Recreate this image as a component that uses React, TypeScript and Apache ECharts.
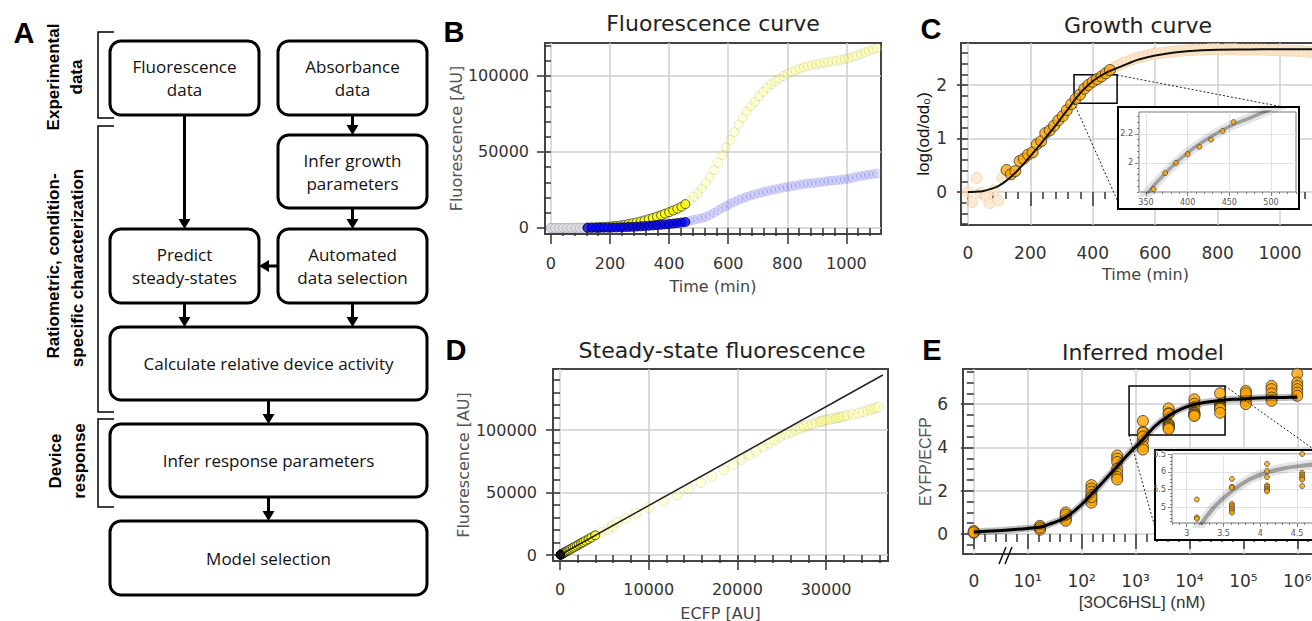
import React, { useEffect, useRef } from "react";
import * as echarts from "echarts";

// ---------------- DATA ----------------
// measurement times (min)
const TIME_MIN = [
  0, 14, 28, 41, 55, 69, 83, 97, 110, 124,
  138, 152, 166, 179, 193, 207, 221, 235, 248, 262,
  276, 290, 304, 317, 331, 345, 359, 373, 386, 400,
  414, 428, 442, 455, 469, 483, 497, 511, 524, 538,
  552, 566, 580, 593, 607, 621, 635, 649, 662, 676,
  690, 704, 718, 731, 745, 759, 773, 787, 800, 814,
  828, 842, 856, 869, 883, 897, 911, 925, 938, 952,
  966, 980, 994, 1007, 1021, 1035, 1049, 1063, 1076, 1090,
  1104,
];
// EYFP fluorescence (AU)
const EYFP_AU = [
  60, 90, 70, 110, 100, 130, 160, 190, 220,
  300, 400, 500, 600, 700, 900, 1100, 1400, 1700, 2100, 2600, 3100, 3700, 4300, 5000,
  5800, 6600, 7500, 8400, 9400, 10400, 11500, 12700, 14000, 15700,
  18000, 20500, 23000, 26000, 29500, 33500, 38000, 43000, 48000, 53000,
  58000, 63000, 68000, 72500, 76500, 80000, 83000, 86500, 89500, 92000,
  94500, 96500, 98300, 100000, 101300, 102500, 103700, 104800, 105800, 106600,
  107100, 107600, 108200, 108700, 109200, 109600, 110000, 110500, 111000, 111600,
  112500, 113500, 114600, 115700, 116600, 117500, 118300,
];
// ECFP fluorescence (AU)
const ECFP_AU = [
  20, 30, 20, 30, 40, 40, 50, 50, 60,
  80, 100, 130, 150, 180, 230, 280, 350, 430, 530, 660, 780, 940, 1090, 1270,
  1470, 1670, 1900, 2130, 2380, 2630, 2910, 3220, 3540, 3970,
  4620, 5400, 5930, 6430, 7400, 8600, 10000, 11700, 13200, 14500,
  15900, 17100, 18500, 19500, 20400, 21300, 22100, 22900, 23600, 24200,
  24800, 25400, 26000, 26600, 27100, 27500, 27900, 28400, 28900, 29300,
  29500, 29750, 30100, 30500, 30900, 31200, 31400, 31700, 32000, 32400,
  33000, 33700, 34200, 34700, 35100, 35500, 35900,
];
// log(od/od0)
const LOG_OD = [
  0, -0.19, 0.26, -0.02, -0.07, -0.21, 0.03, -0.16, 0.26,
  0.41, 0.33, 0.39, 0.58, 0.62, 0.7, 0.74, 0.89, 0.95, 1.1, 1.15, 1.24, 1.34, 1.42, 1.53,
  1.64, 1.74, 1.82, 1.93, 2.0, 2.06, 2.11, 2.16, 2.22, 2.28,
  2.33, 2.37, 2.41, 2.44, 2.47, 2.5, 2.52, 2.54, 2.56, 2.58,
  2.59, 2.6, 2.61, 2.62, 2.63, 2.64, 2.64, 2.65, 2.65, 2.66,
  2.66, 2.66, 2.67, 2.67, 2.67, 2.66, 2.67, 2.67, 2.67, 2.66,
  2.66, 2.66, 2.66, 2.66, 2.66, 2.66, 2.65, 2.65, 2.65, 2.65,
  2.64, 2.64, 2.64, 2.63, 2.63, 2.62, 2.61,
];
// automated data selection window (min)
const SELECT_FROM_MIN = 120;
const SELECT_TO_MIN = 460;

// fitted growth curve
const GROWTH_FIT_T = [0, 25, 50, 75, 100, 125, 150, 175, 200, 225, 250, 275, 300, 325, 350, 375, 400, 425, 450, 475, 500, 525, 550, 600, 650, 700, 750, 800, 900, 1000, 1150];
const GROWTH_FIT_Y = [0, 0.005, 0.02, 0.06, 0.12, 0.22, 0.35, 0.5, 0.67, 0.84, 1.02, 1.2, 1.39, 1.58, 1.78, 1.94, 2.07, 2.17, 2.25, 2.31, 2.37, 2.43, 2.48, 2.55, 2.6, 2.63, 2.65, 2.66, 2.665, 2.67, 2.67];

// steady-state ratio line (ECFP -> EYFP)
const STEADY_LINE_ECFP = [0, 36400];
const STEADY_LINE_EYFP = [0, 144000];

// dose response
const HSL_CONC_NM = [0, 16.9, 50.8, 152, 457, 1372, 4115, 12346, 37037, 111111, 333333, 1000000];
const RATIO_REPLICATES = [
  [0.06, 0.1, 0.14, 0.08],
  [0.38, 0.27, 0.2, 0.3],
  [1.0, 0.8, 0.69, 0.61, 0.9],
  [2.26, 2.1, 1.95, 1.8, 1.57, 1.45, 1.7],
  [3.63, 3.48, 3.33, 3.02, 2.8, 2.64, 2.52],
  [5.22, 4.72, 4.68, 4.32, 4.05, 3.9, 4.5],
  [5.8, 5.58, 5.55, 5.1, 5.05, 5.0, 4.95, 4.9, 4.85],
  [6.22, 6.02, 5.85, 5.62, 5.58, 5.52, 5.48, 5.45],
  [6.5, 5.97, 5.92, 5.87, 5.82, 5.78, 5.6],
  [6.61, 6.38, 6.15, 6.0, 6.5],
  [6.84, 6.69, 6.49, 6.3, 6.15],
  [7.4, 7.0, 6.84, 6.69, 6.53, 6.38],
];
const MODEL_LOG10_CONC = [0, 1.23, 1.45, 1.7, 1.95, 2.17, 2.4, 2.65, 2.9, 3.13, 3.37, 3.61, 3.85, 4.09, 4.33, 4.57, 4.8, 5.04, 5.28, 5.52, 5.76, 6.0];
const MODEL_RATIO = [0.1, 0.32, 0.5, 0.76, 1.25, 1.8, 2.42, 3.1, 3.78, 4.35, 5.0, 5.45, 5.78, 5.98, 6.1, 6.17, 6.22, 6.25, 6.28, 6.3, 6.31, 6.32];

// tick labels
const B_X_TICKS = [0, 200, 400, 600, 800, 1000];
const B_Y_TICKS = [0, 50000, 100000];
const C_X_TICKS = [0, 200, 400, 600, 800, 1000];
const C_Y_TICKS = [0, 1, 2];
const CIN_X_TICKS = [350, 400, 450, 500];
const CIN_Y_TICKS = [2, 2.2];
const D_X_TICKS = [0, 10000, 20000, 30000];
const D_Y_TICKS = [0, 50000, 100000];
const E_X_TICKS = [0, 1, 2, 3, 4, 5, 6];
const E_Y_TICKS = [0, 2, 4, 6];
const EIN_X_TICKS = [3, 3.5, 4, 4.5];
const EIN_Y_TICKS = [5, 5.5, 6, 6.5];
const SUPERSCRIPT = ["⁰", "¹", "²", "³", "⁴", "⁵", "⁶"];

// ---------------- HELPERS ----------------
const FONT_PLOT = '"DejaVu Sans", Verdana, sans-serif';
const FONT_ARIAL = '"Liberation Sans", Arial, sans-serif';
const FONT_FLOW = '"Open Sans", "Liberation Sans", sans-serif';

function minorTicks(min: number, max: number, step: number, majors: number[]) {
  const out: number[] = [];
  const k0 = Math.ceil(min / step - 1e-9);
  const k1 = Math.floor(max / step + 1e-9);
  for (let k = k0; k <= k1; k++) {
    const v = +(k * step).toFixed(6);
    if (!majors.some((m) => Math.abs(m - v) < step * 1e-3)) out.push(v);
  }
  return out;
}

interface AxisDef {
  grid: number; min: number; max: number; majors: number[]; minorStep: number;
  majorLen: number; minorLen: number; labelFont: number; labelMargin: number;
  labelColor?: string; labelFamily?: string; formatter?: (v: number) => string;
  name?: string; nameGap?: number; nameFont?: number; nameFamily?: string; nameColor?: string;
  tickColor?: string; tickWidth?: number; splitColor?: string; splitWidth?: number; z?: number;
}

function axisPair(dim: "x" | "y", d: AxisDef) {
  const position = dim === "x" ? "bottom" : "left";
  const tickLine = { color: d.tickColor ?? "#333", width: d.tickWidth ?? 1.5 };
  const z = d.z ?? 0;
  const major = {
    type: "value", gridIndex: d.grid, position, min: d.min, max: d.max, z,
    axisLine: { show: false },
    axisTick: { show: true, inside: false, length: d.majorLen, customValues: d.majors, lineStyle: tickLine },
    axisLabel: {
      show: true, customValues: d.majors, margin: d.labelMargin, fontSize: d.labelFont,
      fontFamily: d.labelFamily ?? FONT_PLOT, color: d.labelColor ?? "#333",
      formatter: d.formatter ?? ((v: number) => String(v)),
    },
    splitLine: { show: true, lineStyle: { color: d.splitColor ?? "#cfcfcf", width: d.splitWidth ?? 1.5 } },
    minorTick: { show: false }, minorSplitLine: { show: false },
    name: d.name ?? "", nameLocation: "middle", nameGap: d.nameGap ?? 30,
    nameTextStyle: { fontSize: d.nameFont ?? 16, fontFamily: d.nameFamily ?? FONT_PLOT, color: d.nameColor ?? "#444" },
  };
  const minor = {
    type: "value", gridIndex: d.grid, position, min: d.min, max: d.max, z,
    axisLine: { show: false },
    axisTick: { show: true, inside: false, length: d.minorLen, customValues: minorTicks(d.min, d.max, d.minorStep, d.majors), lineStyle: tickLine },
    axisLabel: { show: false },
    splitLine: { show: false }, minorTick: { show: false }, minorSplitLine: { show: false },
  };
  return [major, minor];
}

const idxWhere = (f: (t: number) => boolean) => TIME_MIN.map((_, i) => i).filter((i) => f(TIME_MIN[i]));
const IDX_EARLY = idxWhere((t) => t < SELECT_FROM_MIN);
const IDX_SEL = idxWhere((t) => t >= SELECT_FROM_MIN && t <= SELECT_TO_MIN);
const IDX_LATE = idxWhere((t) => t > SELECT_TO_MIN);
const pairs = (idx: number[], xs: number[], ys: number[]) => idx.map((i) => [xs[i], ys[i]]);
const zip = (xs: number[], ys: number[]) => xs.map((x, i) => [x, ys[i]]);
const concPos = (c: number) => (c === 0 ? 0 : Math.log10(c));

function buildOption() {
  const inset = { labelFont: 8, labelMargin: 6, labelColor: "#555", tickColor: "#666", tickWidth: 0.8, splitColor: "#e2e2e2", splitWidth: 1, majorLen: 4, minorLen: 2, z: 21 };
  const ax: any[][] = [
    // B
    [axisPair("x", { grid: 0, min: -20, max: 1117, majors: B_X_TICKS, minorStep: 40, majorLen: 16, minorLen: 8, labelFont: 16, labelMargin: 21, name: "Time (min)", nameGap: 44 }),
     axisPair("y", { grid: 0, min: -3950, max: 121700, majors: B_Y_TICKS, minorStep: 10000, majorLen: 14, minorLen: 7, labelFont: 16, labelMargin: 16, name: "Fluorescence [AU]", nameGap: 81, nameColor: "#555" })],
    // C
    [axisPair("x", { grid: 1, min: -22, max: 1160, majors: C_X_TICKS, minorStep: 40, majorLen: 14, minorLen: 7, labelFont: 17, labelMargin: 19, name: "Time (min)", nameGap: 41 }),
     axisPair("y", { grid: 1, min: -0.617, max: 2.785, majors: C_Y_TICKS, minorStep: 0.2, majorLen: 11, minorLen: 6, labelFont: 17, labelMargin: 14, name: "log(od/od₀)", nameGap: 27, nameFont: 17, nameFamily: FONT_ARIAL, nameColor: "#111" })],
    // C inset
    [axisPair("x", { grid: 2, min: 341.6, max: 530, majors: CIN_X_TICKS, minorStep: 10, ...inset }),
     axisPair("y", { grid: 2, min: 1.8, max: 2.35, majors: CIN_Y_TICKS, minorStep: 0.04, ...inset })],
    // D
    [axisPair("x", { grid: 3, min: -790, max: 36980, majors: D_X_TICKS, minorStep: 2000, majorLen: 15, minorLen: 8, labelFont: 16, labelMargin: 20, name: "ECFP [AU]", nameGap: 44 }),
     axisPair("y", { grid: 3, min: -4800, max: 148800, majors: D_Y_TICKS, minorStep: 10000, majorLen: 14, minorLen: 7, labelFont: 16, labelMargin: 16, name: "Fluorescence [AU]", nameGap: 82, nameColor: "#555" })],
    // E
    [axisPair("x", { grid: 4, min: -0.2, max: 6.44, majors: E_X_TICKS, minorStep: 0.2, majorLen: 15, minorLen: 8, labelFont: 17, labelMargin: 18, formatter: (v: number) => (v === 0 ? "0" : "10" + SUPERSCRIPT[Math.round(v)]), name: "[3OC6HSL] (nM)", nameGap: 40, nameFont: 17, nameFamily: FONT_ARIAL, nameColor: "#333" }),
     axisPair("y", { grid: 4, min: -0.92, max: 7.62, majors: E_Y_TICKS, minorStep: 0.5, majorLen: 13, minorLen: 7, labelFont: 17, labelMargin: 15, name: "EYFP/ECFP", nameGap: 27, nameFont: 16, nameFamily: FONT_ARIAL, nameColor: "#555" })],
    // E inset
    [axisPair("x", { grid: 5, min: 2.8, max: 4.73, majors: EIN_X_TICKS, minorStep: 0.1, ...inset }),
     axisPair("y", { grid: 5, min: 4.56, max: 6.5, majors: EIN_Y_TICKS, minorStep: 0.1, ...inset })],
  ];
  const xAxis: any[] = [];
  const yAxis: any[] = [];
  ax.forEach(([xp, yp]) => { xAxis.push(...xp); yAxis.push(...yp); });
  const on = (g: number) => ({ xAxisIndex: 2 * g, yAxisIndex: 2 * g });

  const frame = { show: true, borderColor: "#444", borderWidth: 2, backgroundColor: "transparent", containLabel: false, outerBoundsMode: "none" };
  const insetFrame = { show: true, borderColor: "#777", borderWidth: 1, backgroundColor: "#fff", containLabel: false, outerBoundsMode: "none", z: 21 };
  const grid = [
    { ...frame, left: 545, top: 43, width: 336, height: 191 },
    { ...frame, left: 961, top: 43, width: 369, height: 182 },
    { ...insetFrame, left: 1139, top: 112, width: 157, height: 80 },
    { ...frame, left: 553, top: 369, width: 335, height: 192 },
    { ...frame, left: 963, top: 369, width: 358, height: 185 },
    { ...insetFrame, left: 1172, top: 454, width: 142, height: 69 },
  ];

  const yellowSel = { color: "#ffff00", borderColor: "#333", borderWidth: 1 };
  const blueSel = { color: "#0000ff", borderColor: "#000033", borderWidth: 1 };
  const yellowFade = { color: "rgba(255,255,110,0.3)", borderColor: "rgba(150,150,70,0.28)", borderWidth: 1 };
  const blueFade = { color: "rgba(110,110,255,0.22)", borderColor: "rgba(70,70,170,0.22)", borderWidth: 1 };
  const grayFade = { color: "#dcdce2", borderColor: "#b4b4bd", borderWidth: 1 };
  const orangeSel = { color: "#ffa500", borderColor: "#333", borderWidth: 1 };
  const orangeFade = { color: "#fce6c9", borderColor: "#f0d3ab", borderWidth: 1 };
  const zoomBox = { silent: true, label: { show: false }, itemStyle: { color: "rgba(0,0,0,0)", borderColor: "#000", borderWidth: 1.5 } };

  const ePoints: number[][] = [];
  HSL_CONC_NM.forEach((c, j) => RATIO_REPLICATES[j].forEach((v) => ePoints.push([concPos(c), v])));
  const modelCurve = zip(MODEL_LOG10_CONC, MODEL_RATIO);
  const growthCurve = zip(GROWTH_FIT_T, GROWTH_FIT_Y);

  const series: any[] = [
    // ---- B ----
    { type: "scatter", ...on(0), symbolSize: 9, itemStyle: grayFade, data: pairs(IDX_EARLY, TIME_MIN, EYFP_AU), clip: true },
    { type: "scatter", ...on(0), symbolSize: 9, itemStyle: grayFade, data: pairs(IDX_EARLY, TIME_MIN, ECFP_AU), clip: true },
    { type: "scatter", ...on(0), symbolSize: 9, itemStyle: yellowFade, data: pairs(IDX_LATE, TIME_MIN, EYFP_AU), clip: true },
    { type: "scatter", ...on(0), symbolSize: 9, itemStyle: blueFade, data: pairs(IDX_LATE, TIME_MIN, ECFP_AU), clip: true },
    { type: "scatter", ...on(0), symbolSize: 9, itemStyle: yellowSel, data: pairs(IDX_SEL, TIME_MIN, EYFP_AU), clip: true },
    { type: "scatter", ...on(0), symbolSize: 9, itemStyle: blueSel, data: pairs(IDX_SEL, TIME_MIN, ECFP_AU), clip: true },
    // ---- C ----
    { type: "scatter", ...on(1), symbolSize: 11, itemStyle: orangeFade, data: pairs(IDX_EARLY, TIME_MIN, LOG_OD), clip: true },
    { type: "scatter", ...on(1), symbolSize: 11, itemStyle: orangeFade, data: pairs(IDX_LATE, TIME_MIN, LOG_OD), clip: true },
    { type: "line", ...on(1), smooth: true, symbol: "none", lineStyle: { color: "#111", width: 2 }, data: growthCurve, clip: true,
      markArea: { ...zoomBox, data: [[{ xAxis: 340, yAxis: 1.66 }, { xAxis: 478, yAxis: 2.19 }]] } },
    { type: "scatter", ...on(1), symbolSize: 11, itemStyle: orangeSel, data: pairs(IDX_SEL, TIME_MIN, LOG_OD), clip: true },
    // ---- C inset ----
    { type: "line", ...on(2), z: 22, smooth: true, symbol: "none", lineStyle: { color: "rgba(0,0,0,0.10)", width: 10 }, data: growthCurve, clip: true },
    { type: "line", ...on(2), z: 22, smooth: true, symbol: "none", lineStyle: { color: "rgba(0,0,0,0.30)", width: 3.5 }, data: growthCurve, clip: true },
    { type: "scatter", ...on(2), z: 23, symbolSize: 5, itemStyle: { ...orangeSel, borderWidth: 0.8 }, data: pairs(IDX_SEL, TIME_MIN, LOG_OD), clip: true },
    // ---- D ----
    { type: "scatter", ...on(3), symbolSize: 10, itemStyle: yellowFade, data: pairs(IDX_LATE, ECFP_AU, EYFP_AU), clip: true },
    { type: "line", ...on(3), symbol: "none", lineStyle: { color: "#222", width: 1.5 }, data: zip(STEADY_LINE_ECFP, STEADY_LINE_EYFP), clip: true },
    { type: "scatter", ...on(3), symbolSize: 9, itemStyle: { ...yellowSel, borderColor: "#222" }, data: pairs(IDX_SEL, ECFP_AU, EYFP_AU), clip: true },
    { type: "scatter", ...on(3), symbolSize: 8, itemStyle: { color: "#111", borderColor: "#000", borderWidth: 1 }, data: pairs(IDX_EARLY, ECFP_AU, EYFP_AU), clip: true },
    // ---- E ----
    { type: "line", ...on(4), smooth: 0.35, symbol: "none", lineStyle: { color: "rgba(0,0,0,0.25)", width: 7 }, data: modelCurve, clip: true },
    { type: "line", ...on(4), smooth: 0.35, symbol: "none", lineStyle: { color: "#000", width: 3 }, data: modelCurve, clip: true,
      markArea: { ...zoomBox, data: [[{ xAxis: 2.88, yAxis: 4.57 }, { xAxis: 4.66, yAxis: 6.84 }]] } },
    { type: "scatter", ...on(4), symbolSize: 11, itemStyle: orangeSel, data: ePoints, clip: true },
    // ---- E inset ----
    { type: "line", ...on(5), z: 22, smooth: 0.35, symbol: "none", lineStyle: { color: "rgba(0,0,0,0.10)", width: 10 }, data: modelCurve, clip: true },
    { type: "line", ...on(5), z: 22, smooth: 0.35, symbol: "none", lineStyle: { color: "rgba(0,0,0,0.30)", width: 4 }, data: modelCurve, clip: true },
    { type: "scatter", ...on(5), z: 23, symbolSize: 5, itemStyle: { ...orangeSel, borderWidth: 0.8 }, data: ePoints, clip: true },
  ];

  // ---------------- graphics (flowchart, titles, annotations) ----------------
  const g: any[] = [];
  const txt = (text: string, x: number, y: number, size: number, family: string, weight = "normal", fill = "#111", rotation = 0, z = 10) =>
    g.push({ type: "text", x, y, rotation, z, silent: true, style: { text, fontSize: size, fontFamily: family, fontWeight: weight, fill, align: "center", verticalAlign: "middle", lineHeight: Math.round(size * 1.35) } });

  // panel letters
  [["A", 24, 33], ["B", 454, 32], ["C", 931, 29], ["D", 456, 350], ["E", 932, 350]].forEach(([t, x, y]) =>
    txt(t as string, x as number, y as number, 29, FONT_ARIAL, "bold", "#000"));
  // titles
  txt("Fluorescence curve", 713, 23, 22, FONT_PLOT, "normal", "#222");
  txt("Growth curve", 1138, 25, 22, FONT_PLOT, "normal", "#222");
  txt("Steady-state fluorescence", 722, 350, 22, FONT_PLOT, "normal", "#222");
  txt("Inferred model", 1143, 352, 22, FONT_PLOT, "normal", "#222");

  // flowchart boxes
  const boxes = [
    { x: 110, y: 41, w: 149, h: 74, t: "Fluorescence\ndata" },
    { x: 278, y: 41, w: 149, h: 74, t: "Absorbance\ndata" },
    { x: 278, y: 135, w: 149, h: 73, t: "Infer growth\nparameters" },
    { x: 110, y: 229, w: 149, h: 74, t: "Predict\nsteady-states" },
    { x: 278, y: 229, w: 149, h: 74, t: "Automated\ndata selection" },
    { x: 110, y: 327, w: 317, h: 73, t: "Calculate relative device activity" },
    { x: 110, y: 424, w: 317, h: 73, t: "Infer response parameters" },
    { x: 110, y: 521, w: 317, h: 74, t: "Model selection" },
  ];
  boxes.forEach((b) => {
    g.push({ type: "rect", z: 5, silent: true, shape: { x: b.x, y: b.y, width: b.w, height: b.h, r: 11 }, style: { fill: "#fff", stroke: "#000", lineWidth: 3 } });
    g.push({ type: "text", x: b.x + b.w / 2, y: b.y + b.h / 2, z: 6, silent: true, style: { text: b.t, fontSize: 17, fontFamily: FONT_FLOW, fill: "#111", align: "center", verticalAlign: "middle", lineHeight: 23 } });
  });
  const down = (x: number, y1: number, y2: number) => {
    g.push({ type: "line", z: 5, silent: true, shape: { x1: x, y1, x2: x, y2: y2 - 8 }, style: { stroke: "#000", lineWidth: 3 } });
    g.push({ type: "polygon", z: 5, silent: true, shape: { points: [[x - 6, y2 - 10], [x + 6, y2 - 10], [x, y2]] }, style: { fill: "#000" } });
  };
  const left = (y: number, x1: number, x2: number) => {
    g.push({ type: "line", z: 5, silent: true, shape: { x1, y1: y, x2: x2 + 8, y2: y }, style: { stroke: "#000", lineWidth: 3 } });
    g.push({ type: "polygon", z: 5, silent: true, shape: { points: [[x2 + 10, y - 6], [x2 + 10, y + 6], [x2, y]] }, style: { fill: "#000" } });
  };
  down(184.5, 115, 229);
  down(352.5, 115, 135);
  down(352.5, 208, 229);
  left(266, 278, 259);
  down(184.5, 303, 327);
  down(352.5, 303, 327);
  down(268.5, 400, 424);
  down(268.5, 497, 521);
  // brackets
  [[32, 118], [126, 412], [419, 507]].forEach(([a, b]) =>
    g.push({ type: "polyline", z: 5, silent: true, shape: { points: [[114, a], [98, a], [98, b], [114, b]] }, style: { stroke: "#000", lineWidth: 1.5, fill: "none" } }));
  const R = -Math.PI / 2 * -1;
  txt("Experimental", 53, 77, 17, FONT_ARIAL, "bold", "#000", R);
  txt("data", 76, 77, 17, FONT_ARIAL, "bold", "#000", R);
  txt("Ratiometric, condition-", 53, 266, 17, FONT_ARIAL, "bold", "#000", R);
  txt("specific characterization", 77, 268, 17, FONT_ARIAL, "bold", "#000", R);
  txt("Device", 55, 461, 17, FONT_ARIAL, "bold", "#000", R);
  txt("response", 79, 461, 17, FONT_ARIAL, "bold", "#000", R);

  // inset boxes and connectors
  g.push({ type: "rect", z: 20, silent: true, shape: { x: 1118, y: 107, width: 181, height: 102 }, style: { fill: "#fff", stroke: "#000", lineWidth: 2 } });
  g.push({ type: "rect", z: 20, silent: true, shape: { x: 1155, y: 450, width: 162, height: 90 }, style: { fill: "#fff", stroke: "#000", lineWidth: 2 } });
  const dotted = (x1: number, y1: number, x2: number, y2: number) =>
    g.push({ type: "line", z: 19, silent: true, shape: { x1, y1, x2, y2 }, style: { stroke: "#222", lineWidth: 1, lineDash: [2, 2] } });
  dotted(1117, 75, 1283, 107);
  dotted(1074, 103, 1118, 202);
  dotted(1225, 386, 1312, 448);
  dotted(1129, 435, 1156, 531);
  // axis break mark on E
  g.push({ type: "line", z: 12, silent: true, shape: { x1: 999, y1: 564, x2: 1006, y2: 547 }, style: { stroke: "#111", lineWidth: 1.5 } });
  g.push({ type: "line", z: 12, silent: true, shape: { x1: 1005, y1: 564, x2: 1012, y2: 547 }, style: { stroke: "#111", lineWidth: 1.5 } });

  return { animation: false, backgroundColor: "#fff", grid, xAxis, yAxis, series, graphic: g };
}

export default function App() {
  const ref = useRef<HTMLDivElement>(null);
  useEffect(() => {
    if (!ref.current) return;
    const chart = echarts.init(ref.current, null, { renderer: "svg" });
    chart.setOption(buildOption() as any);
    return () => chart.dispose();
  }, []);
  return <div ref={ref} style={{ position: "absolute", left: 0, top: 0, width: 1312, height: 621, background: "#fff" }} />;
}
